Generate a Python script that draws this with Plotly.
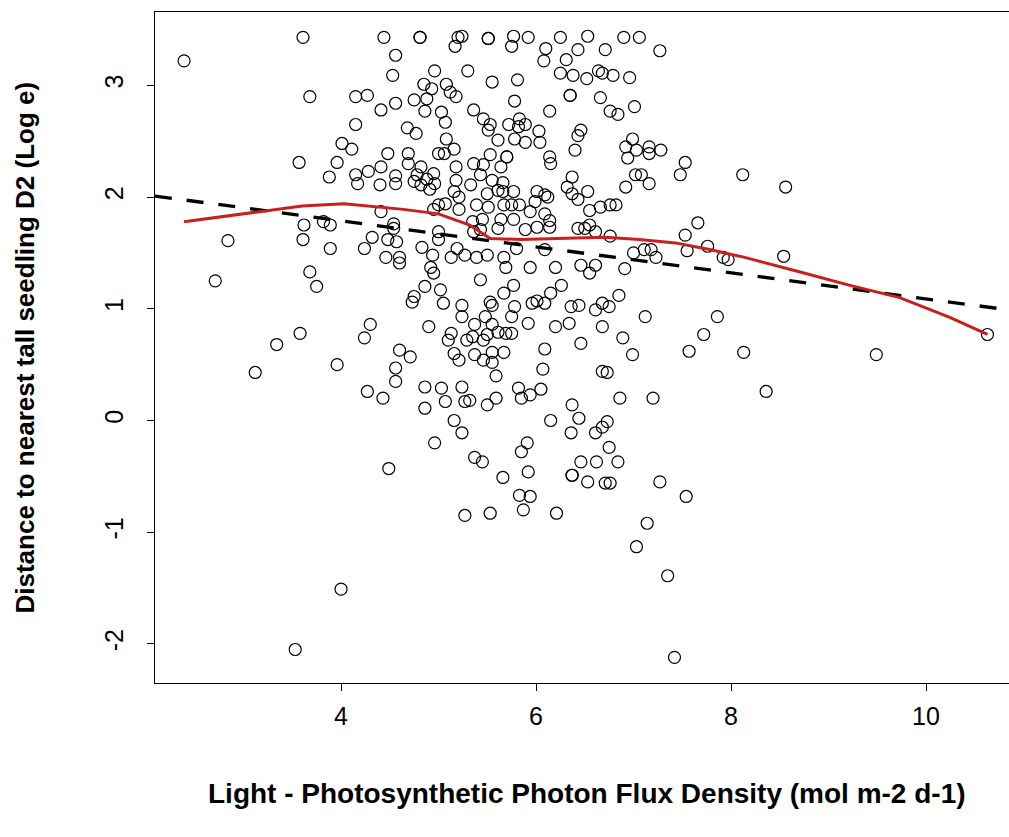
import plotly.graph_objects as go

# Light (PPFD, mol m-2 d-1) and log distance to nearest tall seedling
light = [
    2.39, 2.84, 2.71, 3.12, 3.34, 3.53, 3.57, 3.58, 3.61, 3.62, 3.61, 3.68, 3.75, 3.68, 3.82,
    3.89, 3.89, 3.88, 3.96, 4.01, 3.96, 4.00,
    4.44, 4.81, 4.81, 5.20, 5.24, 5.17, 4.56, 4.53, 4.96, 5.30, 4.85, 4.93, 5.08, 5.12, 5.18,
    4.88, 4.75, 4.15, 4.27, 4.56, 4.41, 4.86, 5.03, 5.07, 4.15, 4.68, 4.77, 5.08, 4.11, 4.48,
    4.69, 5.00, 5.06, 5.16, 4.69, 4.82, 5.18, 4.28, 4.41, 4.15, 4.17, 4.56, 4.78, 4.88, 4.95,
    4.75, 4.82, 4.96, 5.18, 4.40, 4.56, 4.91, 5.16, 5.33, 5.21, 5.00, 4.95, 5.07, 5.21, 4.41,
    4.54, 5.00,
    4.32, 4.24, 4.54, 4.48, 4.57, 4.46, 4.60, 4.60, 4.83, 4.94, 5.13, 5.00, 5.19, 5.27, 4.92,
    4.95, 4.86, 5.02, 5.05, 4.75, 4.73, 5.24, 5.24, 4.90, 4.30, 4.24, 5.13, 5.10, 5.29, 5.16,
    5.21, 4.60, 4.71, 4.56, 4.56, 4.27, 4.43, 4.86, 4.86, 5.03, 5.07, 5.24, 5.27, 5.16, 5.24,
    4.96, 4.49, 5.27,
    5.51, 5.51, 5.77, 5.92, 5.75, 6.10, 6.25, 6.53, 6.43, 6.08, 6.31, 6.25, 6.38, 6.52, 6.64,
    6.68, 5.55, 5.81, 6.35, 6.35, 6.66, 5.78, 6.14, 5.36, 5.46, 5.53, 5.72, 5.83, 5.82, 5.89,
    6.03, 5.51, 5.61, 5.78, 5.89, 6.04, 6.46, 6.43, 6.40, 5.53, 5.70, 5.70, 6.14, 6.15, 5.64,
    5.46, 5.36, 5.43, 5.55, 5.66, 5.77, 5.66, 5.50, 5.61, 6.37, 6.32, 6.37, 6.43, 6.53, 6.01,
    6.09, 6.12, 5.99, 6.55, 6.66, 5.39, 5.51, 5.67, 5.75, 5.83, 5.94, 6.09, 5.35, 5.45, 5.64,
    5.77, 6.14, 6.43, 6.55, 6.61,
    5.36, 5.43, 5.61, 5.89, 6.01, 6.14, 6.50, 5.39, 5.50, 5.67, 5.69, 5.94, 6.20, 6.09, 5.80,
    6.46, 6.55, 6.61, 5.43, 5.67, 5.77, 5.53, 5.55, 5.78, 5.96, 6.01, 6.09, 6.15, 6.26, 6.36,
    6.44, 6.61, 6.68, 5.48, 5.37, 5.55, 5.61, 5.69, 5.75, 5.50, 5.46, 5.35, 5.75, 5.92, 6.20,
    6.34, 6.68, 5.67, 5.55, 5.37, 5.46, 5.55, 6.09, 6.46, 5.59, 6.07, 6.68, 5.82, 5.94, 5.85,
    6.05, 5.59, 5.50, 6.37, 6.44, 6.15, 5.32, 6.36, 6.61, 6.68, 5.91, 5.85,
    5.37, 5.45, 5.66, 5.92, 5.83, 5.94, 5.87, 6.21, 5.53, 6.46, 6.62, 6.37, 6.37, 6.53, 6.71,
    6.90, 7.06, 7.27, 6.71, 6.79, 6.96, 6.76, 6.84, 7.01, 6.99, 6.92, 7.03, 7.16, 7.16, 7.28,
    6.94, 7.02, 7.08, 7.16, 6.92, 7.53, 7.48, 8.12, 6.76, 6.82, 7.66, 7.53,
    6.76, 7.55, 7.76, 7.92, 7.97, 7.00, 7.11, 7.18, 7.23, 6.91, 6.85, 6.75, 7.12, 7.86, 7.72,
    6.89, 6.99, 7.57, 8.13, 6.73, 6.86, 7.20, 6.73, 6.75,
    6.84, 6.76, 7.27, 7.54, 7.14, 7.03, 7.35, 7.42,
    8.56, 8.54, 8.36, 9.49, 10.63,
]
distance = [
    3.22, 1.61, 1.25, 0.43, 0.68, -2.05, 2.31, 0.78, 3.43, 1.75, 1.62, 1.33, 1.20, 2.90, 1.78,
    1.75, 1.54, 2.18, 2.31, 2.48, 0.50, -1.51,
    3.43, 3.43, 3.43, 3.43, 3.44, 3.35, 3.27, 3.09, 3.13, 3.13, 3.01, 2.97, 3.01, 2.94, 2.90,
    2.88, 2.87, 2.90, 2.91, 2.84, 2.78, 2.77, 2.76, 2.67, 2.65, 2.62, 2.57, 2.52, 2.43, 2.39,
    2.39, 2.39, 2.39, 2.43, 2.30, 2.27, 2.27, 2.23, 2.27, 2.20, 2.12, 2.19, 2.20, 2.16, 2.21,
    2.14, 2.11, 2.12, 2.15, 2.11, 2.12, 2.07, 2.05, 2.11, 2.00, 1.93, 1.89, 1.94, 1.89, 1.87,
    1.76, 1.69,
    1.64, 1.54, 1.72, 1.62, 1.60, 1.46, 1.46, 1.41, 1.55, 1.48, 1.46, 1.62, 1.54, 1.48, 1.37,
    1.32, 1.20, 1.17, 1.05, 1.11, 1.06, 1.03, 0.93, 0.84, 0.86, 0.74, 0.78, 0.72, 0.72, 0.60,
    0.54, 0.63, 0.57, 0.47, 0.35, 0.26, 0.20, 0.30, 0.11, 0.29, 0.17, 0.30, 0.17, 0.00, -0.11,
    -0.20, -0.43, -0.85,
    3.42, 3.42, 3.44, 3.43, 3.35, 3.33, 3.43, 3.44, 3.32, 3.22, 3.23, 3.11, 3.09, 3.06, 3.13,
    3.11, 3.03, 3.05, 2.91, 2.91, 2.89, 2.86, 2.77, 2.78, 2.70, 2.65, 2.65, 2.70, 2.63, 2.65,
    2.59, 2.60, 2.51, 2.52, 2.49, 2.49, 2.60, 2.55, 2.42, 2.38, 2.36, 2.36, 2.36, 2.30, 2.27,
    2.29, 2.30, 2.20, 2.15, 2.13, 2.05, 2.05, 2.03, 2.06, 2.18, 2.09, 2.03, 1.98, 2.05, 2.05,
    2.02, 2.00, 1.96, 1.88, 1.91, 1.93, 1.91, 1.93, 1.93, 1.93, 1.87, 1.85, 1.78, 1.80, 1.80,
    1.80, 1.79, 1.72, 1.75, 1.69,
    1.69, 1.71, 1.72, 1.71, 1.73, 1.73, 1.72, 1.46, 1.48, 1.46, 1.37, 1.37, 1.37, 1.53, 1.54,
    1.39, 1.32, 1.39, 1.26, 1.14, 1.21, 1.06, 1.03, 1.02, 1.05, 1.07, 1.05, 1.14, 1.21, 1.02,
    1.03, 0.99, 1.05, 0.93, 0.86, 0.86, 0.79, 0.78, 0.78, 0.77, 0.72, 0.75, 0.93, 0.87, 0.84,
    0.87, 0.84, 0.61, 0.61, 0.59, 0.54, 0.52, 0.64, 0.69, 0.40, 0.46, 0.44, 0.29, 0.23, 0.20,
    0.28, 0.20, 0.14, 0.14, 0.02, 0.00, 0.18, -0.11, -0.11, -0.06, -0.20, -0.28,
    -0.33, -0.37, -0.51, -0.46, -0.67, -0.68, -0.80, -0.83, -0.83, -0.37, -0.37, -0.49, -0.49, -0.55, -0.56,
    3.43, 3.43, 3.31, 3.32, 3.09, 3.07, 2.77, 2.74, 2.81, 2.52, 2.45, 2.42, 2.45, 2.39, 2.42,
    2.35, 2.20, 2.20, 2.12, 2.09, 2.31, 2.20, 2.20, 1.93, 1.93, 1.77, 1.66,
    1.65, 1.52, 1.56, 1.46, 1.44, 1.50, 1.53, 1.53, 1.46, 1.36, 1.12, 1.02, 0.93, 0.93, 0.77,
    0.74, 0.59, 0.62, 0.61, 0.43, 0.20, 0.20, -0.01, -0.24,
    -0.37, -0.56, -0.55, -0.68, -0.92, -1.13, -1.39, -2.12,
    2.09, 1.47, 0.26, 0.59, 0.77,
]

# Linear fit (dashed) and lowess smooth (red)
fit_intercept = 2.253
fit_slope = -0.1164
smooth_x = [2.39, 2.89, 3.60, 4.03, 4.64, 5.00, 5.32, 5.53, 5.85, 6.21, 6.71, 7.06, 7.43,
            7.78, 8.14, 8.71, 9.22, 9.73, 10.25, 10.63]
smooth_y = [1.78, 1.84, 1.92, 1.94, 1.89, 1.85, 1.75, 1.63, 1.62, 1.63, 1.64, 1.62, 1.59,
            1.53, 1.46, 1.33, 1.21, 1.10, 0.92, 0.77]

x_ticks = [4, 6, 8, 10]
y_ticks = [-2, -1, 0, 1, 2, 3]
x_range = [2.092, 10.851]
y_range = [-2.350, 3.657]

x_title = "Light - Photosynthetic Photon Flux Density (mol m-2 d-1)"
y_title = "Distance to nearest tall seedling D2 (Log e)"

fit_x = [x_range[0] - 0.001, x_range[1]]
fit_y = [fit_intercept + fit_slope * v for v in fit_x]

fig = go.Figure()
fig.add_trace(go.Scatter(
    x=light, y=distance, mode="markers",
    marker=dict(symbol="circle-open", size=12, color="black", line=dict(width=1.2)),
    hoverinfo="x+y", showlegend=False,
))
fig.add_trace(go.Scatter(
    x=fit_x, y=fit_y, mode="lines",
    line=dict(color="black", width=3.3, dash="17px,15px"),
    showlegend=False,
))
fig.add_trace(go.Scatter(
    x=smooth_x, y=smooth_y, mode="lines",
    line=dict(color="#C8201E", width=3),
    showlegend=False,
))

font_family = "Liberation Sans, Arial, sans-serif"
fig.update_layout(
    width=1009, height=837,
    margin=dict(l=155, r=0, t=12, b=154),
    paper_bgcolor="white", plot_bgcolor="white",
    font=dict(family=font_family, color="black"),
    showlegend=False,
    xaxis=dict(
        range=x_range, tickvals=x_ticks, ticktext=[str(t) for t in x_ticks],
        showgrid=False, zeroline=False,
        showline=True, linecolor="black", linewidth=1.3, mirror=True,
        ticks="outside", ticklen=7, tickwidth=1.3, tickcolor="black",
        tickfont=dict(size=25, family=font_family), ticklabelstandoff=4,
    ),
    yaxis=dict(
        range=y_range, tickvals=y_ticks, ticktext=[str(t) for t in y_ticks],
        showgrid=False, zeroline=False,
        showline=True, linecolor="black", linewidth=1.3, mirror=False,
        ticks="outside", ticklen=7, tickwidth=1.3, tickcolor="black",
        tickangle=-90,
        tickfont=dict(size=25, family=font_family), ticklabelstandoff=14,
    ),
    annotations=[
        dict(text=f"<b>{x_title}</b>", xref="paper", yref="paper",
             x=(587 - 155) / 854, y=(683 - 793) / 671, xanchor="center", yanchor="middle",
             showarrow=False, font=dict(size=28, family=font_family)),
        dict(text=f"<b>{y_title}</b>", xref="paper", yref="paper",
             x=(24 - 155) / 854, y=0.5, xanchor="center", yanchor="middle", textangle=-90,
             showarrow=False, font=dict(size=26, family=font_family)),
    ],
)

fig.write_html("out.html")
